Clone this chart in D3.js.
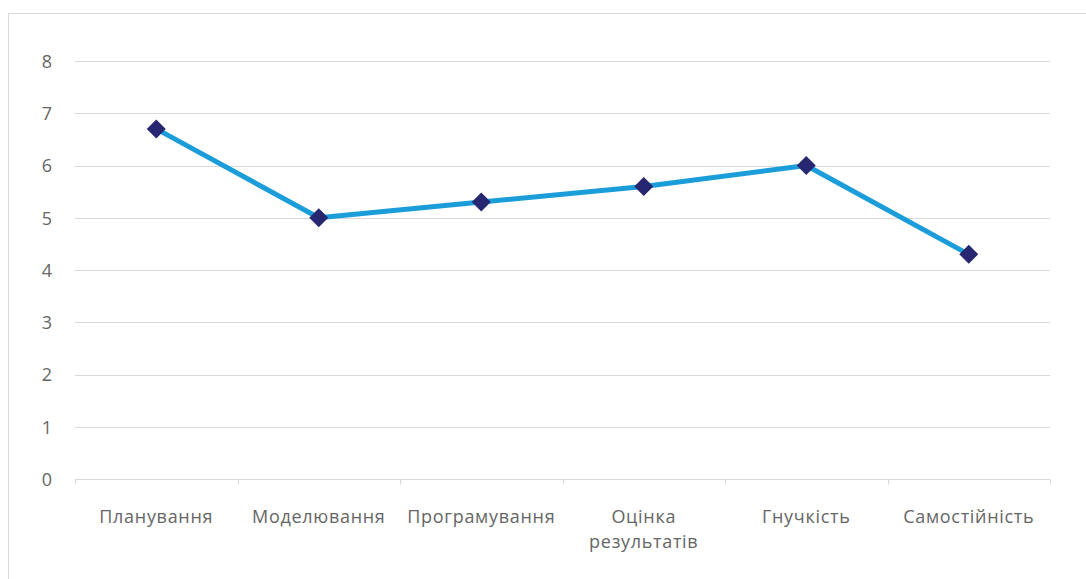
<!DOCTYPE html>
<html>
  <head>
    <meta charset="UTF-8">
    <title>chart</title>
    <script src="https://d3js.org/d3.v7.min.js"></script>
    <style>
    body { margin: 0; background: #fff; }
    .tick text { font: 18px "Open Sans", sans-serif; fill: #666; }
    .xlab text { letter-spacing: 0.7px; }
    </style>
  </head>
  <body>
  <script type="text/javascript">

  var categories = ['Планування', 'Моделювання', 'Програмування', 'Оцінка результатів', 'Гнучкість', 'Самостійність']
  var values = [6.7, 5.0, 5.3, 5.6, 6.0, 4.3]
  var yTicks = [0, 1, 2, 3, 4, 5, 6, 7, 8]

  var W = 1086, H = 579
  var svg = d3.select('body').append('svg')
    .attr('width', W)
    .attr('height', H)

  // outer chart border (runs off the page right and bottom)
  svg.append('rect')
    .attr('x', 8.5).attr('y', 13.5)
    .attr('width', 1100).attr('height', 600)
    .attr('fill', 'none')
    .attr('stroke', '#d9d9d9')

  var x = d3.scaleBand().domain(categories).range([75, 1050])
  var y = d3.scaleLinear().domain([0, 8]).range([479, 61])

  // gridlines
  svg.append('g')
    .selectAll('line')
    .data(yTicks.slice(1))
    .enter().append('line')
      .attr('x1', 75).attr('x2', 1050)
      .attr('y1', d => Math.round(y(d)) + 0.5)
      .attr('y2', d => Math.round(y(d)) + 0.5)
      .attr('stroke', '#d9d9d9')
      .attr('stroke-width', 1)

  // y axis labels
  var yAxis = svg.append('g')
    .attr('transform', 'translate(52,0)')
    .call(d3.axisLeft(y).tickValues(yTicks).tickSize(0).tickPadding(0))
  yAxis.select('.domain').remove()
  yAxis.selectAll('text').attr('dy', '0.35em')

  // x axis
  var xAxis = svg.append('g')
    .attr('class', 'xlab')
    .attr('transform', 'translate(0,' + (Math.round(y(0)) + 0.5) + ')')
  xAxis.append('line')
    .attr('x1', 75).attr('x2', 1050)
    .attr('stroke', '#d9d9d9')
  var bounds = categories.map(c => x(c)).concat([x.range()[1]])
  xAxis.selectAll('.sep')
    .data(bounds)
    .enter().append('line')
      .attr('x1', d => Math.round(d) + 0.5).attr('x2', d => Math.round(d) + 0.5)
      .attr('y1', 0).attr('y2', 5)
      .attr('stroke', '#d9d9d9')

  var lab = xAxis.selectAll('.tick')
    .data(categories)
    .enter().append('g')
      .attr('class', 'tick')
      .attr('transform', d => 'translate(' + (x(d) + x.bandwidth() / 2) + ',0)')
  lab.append('text')
    .attr('text-anchor', 'middle')
    .selectAll('tspan')
    .data(d => d.split(' '))
    .enter().append('tspan')
      .attr('x', 0)
      .attr('y', (d, i) => 43 + i * 25)
      .text(d => d)

  // series line
  var pts = categories.map((c, i) => [x(c) + x.bandwidth() / 2, y(values[i])])
  svg.append('path')
    .attr('d', d3.line()(pts))
    .attr('fill', 'none')
    .attr('stroke', '#1b9dd9')
    .attr('stroke-width', 5)
    .attr('stroke-linejoin', 'round')

  svg.append('g')
    .selectAll('path')
    .data(pts)
    .enter().append('path')
      .attr('d', d3.symbol().type(d3.symbolSquare).size(180))
      .attr('transform', d => 'translate(' + d + ') rotate(45)')
      .attr('fill', '#262671')

  </script>
  </body>
</html>
